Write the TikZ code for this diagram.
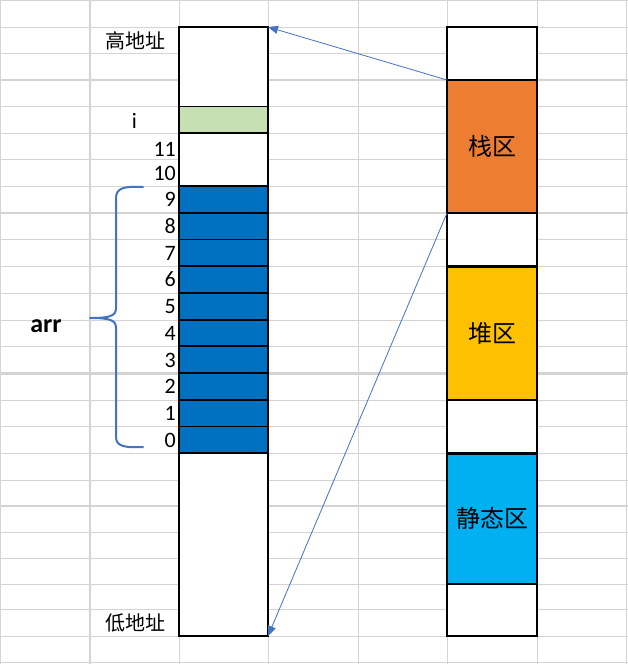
\documentclass[tikz,border=0pt]{standalone}
\usepackage{fontspec}
\setmainfont{Carlito}
\newfontfamily\cjk{Noto Sans CJK SC}
\usetikzlibrary{arrows.meta}
\definecolor{gridc}{HTML}{D4D4D4}
\definecolor{orangez}{HTML}{ED7D31}
\definecolor{goldz}{HTML}{FFC000}
\definecolor{cyanz}{HTML}{00B0F0}
\definecolor{bluecell}{HTML}{0070C0}
\definecolor{greencell}{HTML}{C6E0B4}
\definecolor{linkc}{HTML}{4472C4}
\tikzset{
  gridthin/.style={draw=gridc, line width=1pt},
  gridthick/.style={draw=gridc, line width=2.4pt},
  colbox/.style={rectangle, draw=black, fill=white, line width=1.8pt, inner sep=0pt, outer sep=0pt, minimum width=89pt},
  rcolbox/.style={rectangle, draw=black, fill=white, line width=2.7pt, inner sep=0pt, outer sep=0pt, minimum width=90pt},
  cellbox/.style={rectangle, draw=black, line width=1.8pt, inner sep=0pt, outer sep=0pt, minimum width=89pt},
  zone/.style={rectangle, draw=black, line width=2.7pt, inner sep=0pt, outer sep=0pt, minimum width=90pt, font=\cjk\fontsize{24}{28}\selectfont},
  numlbl/.style={anchor=base east, inner sep=0pt, font=\fontsize{22}{26}\selectfont},
  addrlbl/.style={inner sep=0pt, font=\cjk\fontsize{20}{24}\selectfont},
  link/.style={draw=linkc, line width=0.8pt, -{Triangle[length=10pt,width=8pt]}},
  bracec/.style={draw=linkc, line width=2pt, line cap=round, line join=round}
}
\begin{document}
\begin{tikzpicture}[x=1pt,y=-1pt]
\useasboundingbox (0,0) rectangle (628,664);
\fill[white] (0,0) rectangle (628,664);
% grid
\foreach \yy in {0.7,27,53.5,106.5,133,159.5,186,239.6,266.4,293,320,346.6,400,426.6,453.3,480,532,558,584,609.5,636,662.5}
  \draw[gridthin] (0,\yy) -- (628,\yy);
\foreach \yy in {80,213,373.3,506}
  \draw[gridthick] (0,\yy) -- (628,\yy);
\foreach \xx in {0.7,179,268,358,447,537,626.5}
  \draw[gridthin] (\xx,0) -- (\xx,664);
\draw[gridthick] (90,0) -- (90,664);

% left column
\node[colbox, minimum height=609pt] (L) at (223.5,331.5) {};
\node[cellbox, fill=greencell, minimum height=26.5pt] (ci) at (223.5,119.75) {};
\foreach \k in {0,...,9} {
  \pgfmathsetmacro{\cy}{186+26.73*\k+13.365}
  \node[cellbox, fill=bluecell, minimum height=26.73pt] (b\k) at (223.5,\cy) {};
  \pgfmathtruncatemacro{\lab}{9-\k}
  \pgfmathsetmacro{\by}{186+26.73*(\k+1)-6}
  \node[numlbl] (n\k) at (176,\by) {\lab};
}
\draw[black, line width=1.8pt] (L.north west) rectangle (L.south east);
\node[numlbl] (n11) at (176,156) {11};
\node[numlbl] (n10) at (176,180.5) {10};
\node[anchor=base, inner sep=0pt, font=\fontsize{22}{26}\selectfont] (ni) at (134.5,128.5) {i};
\node[addrlbl] (hi) at (135,41) {高地址};
\node[addrlbl] (lo) at (135,623) {低地址};

% right column
\node[rcolbox, minimum height=609pt] (R) at (492,331.5) {};
\node[zone, fill=orangez, minimum height=133pt] (ST) at (492,146.5) {栈区};
\node[zone, fill=goldz, minimum height=133.6pt] (HP) at (492,333.2) {堆区};
\node[zone, fill=cyanz, minimum height=130.7pt] (SA) at (492,518.65) {静态区};
\draw[black, line width=2.7pt] (R.north west) rectangle (R.south east);

% arrows
\draw[link] (ST.north west) -- (L.north east);
\draw[link] (ST.south west) -- (L.south east);

% brace and label
\draw[bracec] (143,187) .. controls (124,186) and (116,188) .. (116,198) -- (116,308)
  .. controls (116,316) and (110,318) .. (90,318)
  .. controls (110,318) and (116,320) .. (116,328) -- (116,437)
  .. controls (116,446) and (124,448) .. (143,447);
\node[anchor=base, inner sep=0pt, font=\bfseries\fontsize{26}{30}\selectfont] (arr) at (46,332) {arr};
\end{tikzpicture}
\end{document}
